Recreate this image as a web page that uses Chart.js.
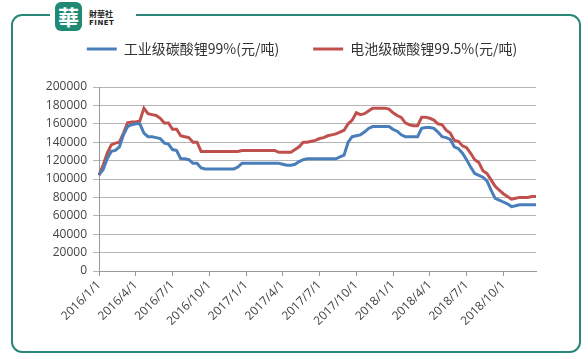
<!DOCTYPE html>
<html>
<head>
<meta charset="utf-8">
<script src="https://cdn.jsdelivr.net/npm/chart.js@4.4.0/dist/chart.umd.min.js"></script>
<style>
  body { margin: 0; background: #fff; }
  #wrap { position: relative; width: 588px; height: 359px; overflow: hidden; background: #fff; }
  #frame { position: absolute; left: 11px; top: 14px; width: 566px; height: 335px;
           border: 2px solid #2b8878; border-radius: 11px; }
  #gap { position: absolute; left: 50px; top: 8px; width: 86px; height: 16px; background: #fff; }
  #logo { position: absolute; left: 55px; top: 2px; width: 27px; height: 29px; background: #1f8a73;
          border-radius: 6px; color: #fff; font: bold 21px "Noto Sans CJK TC"; text-align: center; line-height: 28px; }
  #brand { position: absolute; left: 89px; top: 9px; color: #222; }
  #brand .cn { font: bold 8px "Noto Sans CJK TC"; line-height: 10px; }
  #brand .en { font: bold 7px "DejaVu Sans"; line-height: 8px; letter-spacing: 0.5px; }
  #box { position: absolute; left: 0; top: 0; width: 588px; height: 359px; }
</style>
</head>
<body>
<div id="wrap">
  <div id="frame"></div>
  <div id="gap"></div>
  <div id="logo">華</div>
  <div id="brand"><div class="cn">財華社</div><div class="en">FINET</div></div>
  <div id="box"><canvas id="chart"></canvas></div>
</div>
<script>
// dates: 1st, 11th, 21st of each month, 2016/1 - 2018/12
const categories = [];
for (const y of [2016, 2017, 2018]) {
    for (let m = 1; m <= 12; m++) {
        for (const d of [1, 11, 21]) categories.push(y + '/' + m + '/' + d);
    }
}
const tickLabels = ['2016/1/1', '2016/4/1', '2016/7/1', '2016/10/1', '2017/1/1', '2017/4/1',
    '2017/7/1', '2017/10/1', '2018/1/1', '2018/4/1', '2018/7/1', '2018/10/1'];

// 工业级碳酸锂99% (元/吨)
const industrial = [
    105000, 110000, 122000, 130000, 131000, 135000, 148000, 157000, 159000, 160000,
    160000, 150000, 146000, 146000, 145000, 144000, 139000, 138000, 132000, 131000,
    122000, 122000, 121000, 117000, 117000, 112000, 111000, 111000, 111000, 111000,
    111000, 111000, 111000, 111000, 113000, 117000, 117000, 117000, 117000, 117000,
    117000, 117000, 117000, 117000, 117000, 116000, 115000, 115000, 116000, 119000,
    121000, 122000, 122000, 122000, 122000, 122000, 122000, 122000, 122000, 124000,
    126000, 140000, 146000, 147000, 148000, 151000, 155000, 157000, 157000, 157000,
    157000, 157000, 154000, 152000, 148000, 146000, 146000, 146000, 146000, 155000,
    156000, 156000, 155000, 151000, 146000, 145000, 143000, 135000, 133000, 128000,
    121000, 113000, 106000, 104000, 102000, 98000, 88000, 79000, 77000, 75000,
    73000, 70000, 71000, 72000, 72000, 72000, 72000, 72000
];

// 电池级碳酸锂99.5% (元/吨)
const battery = [
    104000, 115000, 128000, 137000, 139000, 140000, 150000, 161000, 162000, 162000,
    163000, 177000, 171000, 170000, 169000, 166000, 161000, 161000, 154000, 154000,
    147000, 146000, 145000, 140000, 140000, 130000, 130000, 130000, 130000, 130000,
    130000, 130000, 130000, 130000, 130000, 131000, 131000, 131000, 131000, 131000,
    131000, 131000, 131000, 131000, 129000, 129000, 129000, 129000, 132000, 135000,
    140000, 140000, 141000, 142000, 144000, 145000, 147000, 148000, 149000, 151000,
    153000, 160000, 164000, 172000, 170000, 171000, 174000, 177000, 177000, 177000,
    177000, 176000, 172000, 169000, 167000, 161000, 159000, 158000, 158000, 167000,
    167000, 166000, 164000, 160000, 159000, 153000, 150000, 142000, 141000, 136000,
    134000, 128000, 121000, 118000, 109000, 106000, 99000, 92000, 88000, 84000,
    81000, 78000, 79000, 80000, 80000, 80000, 81000, 81000
];

const tickFont = { family: 'Open Sans', size: 12 };

// extra space under the legend, and legend nudged right
const legendGap = {
    id: 'legendGap',
    beforeInit(chart) {
        const fit = chart.legend.fit;
        chart.legend.fit = function() {
            fit.call(this);
            this.height += 21;
        };
    },
    afterLayout(chart) {
        chart.legend.left += 24;
        chart.legend.right += 24;
    }
};

new Chart(document.getElementById('chart'), {
    type: 'line',
    data: {
        labels: categories,
        datasets: [{
            label: '工业级碳酸锂99%(元/吨)',
            data: industrial,
            borderColor: '#4a7ebb',
            backgroundColor: '#4a7ebb',
            borderWidth: 3,
            pointRadius: 0,
            tension: 0
        }, {
            label: '电池级碳酸锂99.5%(元/吨)',
            data: battery,
            borderColor: '#c0504d',
            backgroundColor: '#c0504d',
            borderWidth: 3,
            pointRadius: 0,
            tension: 0
        }]
    },
    plugins: [legendGap],
    options: {
        responsive: true,
        maintainAspectRatio: false,
        animation: false,
        layout: { padding: { left: 20, right: 52, top: 8, bottom: 8 } },
        plugins: {
            legend: {
                labels: {
                    usePointStyle: true,
                    pointStyle: 'line',
                    pointStyleWidth: 30,
                    padding: 34,
                    color: '#333',
                    font: { family: 'Noto Sans CJK SC', size: 14 }
                }
            },
            tooltip: { enabled: false }
        },
        scales: {
            x: {
                afterFit: function(scale) { scale.height = 80; },
                grid: {
                    drawOnChartArea: false,
                    tickLength: 5,
                    color: function(c) {
                        return c.tick && tickLabels.includes(categories[c.tick.value]) ? '#999' : 'rgba(0,0,0,0)';
                    }
                },
                border: { color: '#999' },
                ticks: {
                    autoSkip: false,
                    maxRotation: 45,
                    minRotation: 45,
                    padding: 2,
                    color: '#444',
                    font: tickFont,
                    callback: function(value) {
                        const lab = categories[value];
                        return tickLabels.includes(lab) ? lab : '';
                    }
                }
            },
            y: {
                min: 0,
                max: 200000,
                afterFit: function(scale) { scale.width = 79; },
                grid: { color: '#b5b5b5', tickLength: 6 },
                border: { color: '#999' },
                ticks: {
                    stepSize: 20000,
                    padding: 6,
                    color: '#444',
                    font: tickFont,
                    callback: function(value) { return String(value); }
                }
            }
        }
    }
});
</script>
</body>
</html>
